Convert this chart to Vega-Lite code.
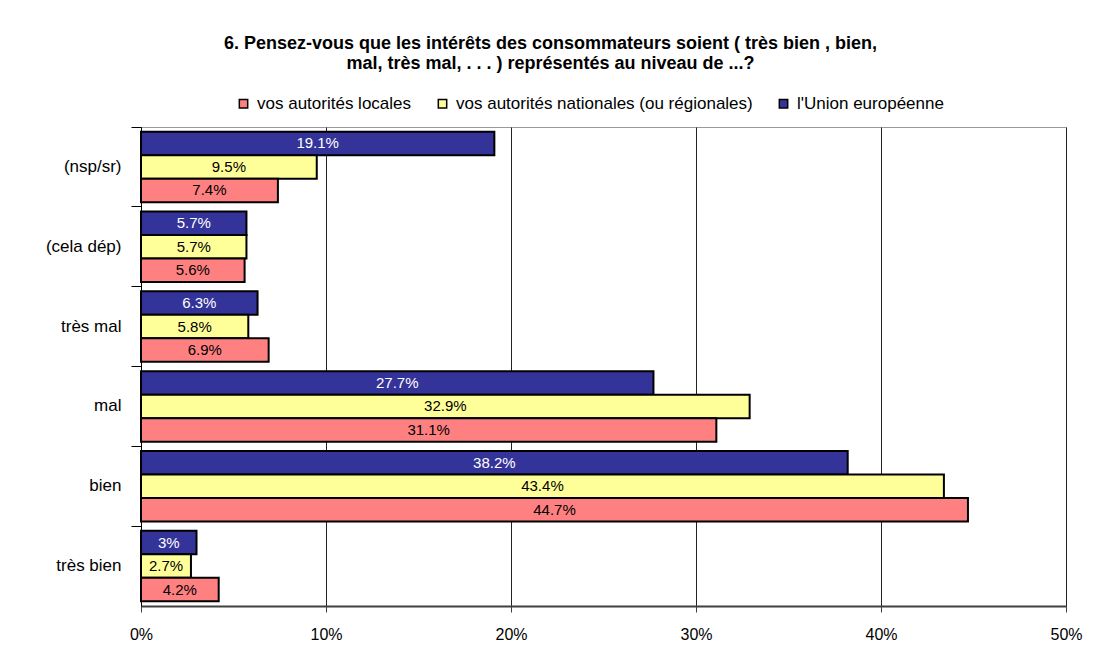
{
  "$schema": "https://vega.github.io/schema/vega-lite/v6.json",
  "width": 925,
  "height": 479,
  "autosize": {"type": "none"},
  "padding": {"left": 141, "top": 127, "right": 35, "bottom": 60},
  "background": "white",
  "title": {
    "text": ["6. Pensez-vous que les intérêts des consommateurs soient  ( très bien , bien,", "mal, très mal, . . . ) représentés au niveau de ...?"],
    "font": "Liberation Sans",
    "fontSize": 18,
    "fontWeight": "bold",
    "color": "black",
    "anchor": "middle",
    "dx": -53,
    "offset": 22,
    "lineHeight": 20
  },
  "data": {
    "values": [
      {"cat": "(nsp/sr)", "niveau": "l'Union européenne", "v": 0.191},
      {"cat": "(nsp/sr)", "niveau": "vos autorités nationales (ou régionales)", "v": 0.095},
      {"cat": "(nsp/sr)", "niveau": "vos autorités locales", "v": 0.074},
      {"cat": "(cela dép)", "niveau": "l'Union européenne", "v": 0.057},
      {"cat": "(cela dép)", "niveau": "vos autorités nationales (ou régionales)", "v": 0.057},
      {"cat": "(cela dép)", "niveau": "vos autorités locales", "v": 0.056},
      {"cat": "très mal", "niveau": "l'Union européenne", "v": 0.063},
      {"cat": "très mal", "niveau": "vos autorités nationales (ou régionales)", "v": 0.058},
      {"cat": "très mal", "niveau": "vos autorités locales", "v": 0.069},
      {"cat": "mal", "niveau": "l'Union européenne", "v": 0.277},
      {"cat": "mal", "niveau": "vos autorités nationales (ou régionales)", "v": 0.329},
      {"cat": "mal", "niveau": "vos autorités locales", "v": 0.311},
      {"cat": "bien", "niveau": "l'Union européenne", "v": 0.382},
      {"cat": "bien", "niveau": "vos autorités nationales (ou régionales)", "v": 0.434},
      {"cat": "bien", "niveau": "vos autorités locales", "v": 0.447},
      {"cat": "très bien", "niveau": "l'Union européenne", "v": 0.03},
      {"cat": "très bien", "niveau": "vos autorités nationales (ou régionales)", "v": 0.027},
      {"cat": "très bien", "niveau": "vos autorités locales", "v": 0.042}
    ]
  },
  "transform": [{"calculate": "datum.v / 2", "as": "mid"}],
  "encoding": {
    "y": {
      "field": "cat",
      "type": "nominal",
      "sort": ["(nsp/sr)", "(cela dép)", "très mal", "mal", "bien", "très bien"],
      "scale": {"paddingInner": 0, "paddingOuter": 0},
      "axis": {
        "title": null,
        "bandPosition": 0,
        "tickSize": 10,
        "tickColor": "black",
        "domainColor": "black",
        "labelPadding": 10,
        "labelFont": "Liberation Sans",
        "labelFontSize": 17,
        "labelColor": "black",
        "grid": false
      }
    },
    "yOffset": {
      "field": "niveau",
      "type": "nominal",
      "sort": ["l'Union européenne", "vos autorités nationales (ou régionales)", "vos autorités locales"],
      "scale": {"paddingInner": 0, "paddingOuter": 0.2}
    }
  },
  "layer": [
    {
      "mark": {"type": "bar", "stroke": "black", "strokeWidth": 2},
      "encoding": {
        "x": {
          "field": "v",
          "type": "quantitative",
          "scale": {"domain": [0, 0.5], "nice": false},
          "axis": {
            "title": null,
            "format": ".0%",
            "values": [0, 0.1, 0.2, 0.3, 0.4, 0.5],
            "grid": true,
            "gridColor": "#222222",
            "gridWidth": 1,
            "domainColor": "#404040",
            "domainWidth": 2,
            "tickColor": "#404040",
            "tickSize": 6,
            "labelFlush": false,
            "labelPadding": 14,
            "labelFont": "Liberation Sans",
            "labelFontSize": 16,
            "labelColor": "black"
          }
        },
        "fill": {
          "field": "niveau",
          "type": "nominal",
          "sort": ["vos autorités locales", "vos autorités nationales (ou régionales)", "l'Union européenne"],
          "scale": {
            "domain": ["vos autorités locales", "vos autorités nationales (ou régionales)", "l'Union européenne"],
            "range": ["#FF8080", "#FFFF99", "#333399"]
          },
          "legend": {
            "title": null,
            "orient": "none",
            "direction": "horizontal",
            "legendX": 94,
            "legendY": -32,
            "symbolType": "square",
            "symbolSize": 70,
            "symbolStrokeColor": "black",
            "symbolStrokeWidth": 1.5,
            "labelFont": "Liberation Sans",
            "labelFontSize": 17,
            "labelLimit": 500,
            "labelColor": "black",
            "columnPadding": 22,
            "labelOffset": 5
          }
        }
      }
    },
    {
      "mark": {"type": "text", "font": "Liberation Sans", "fontSize": 15, "align": "center", "baseline": "middle"},
      "encoding": {
        "x": {"field": "mid", "type": "quantitative"},
        "text": {"field": "v", "type": "quantitative", "format": ".1~%"},
        "color": {
          "field": "niveau",
          "type": "nominal",
          "scale": {
            "domain": ["vos autorités locales", "vos autorités nationales (ou régionales)", "l'Union européenne"],
            "range": ["black", "black", "white"]
          },
          "legend": null
        }
      }
    }
  ],
  "config": {
    "view": {"stroke": "#999999", "strokeWidth": 1}
  }
}
